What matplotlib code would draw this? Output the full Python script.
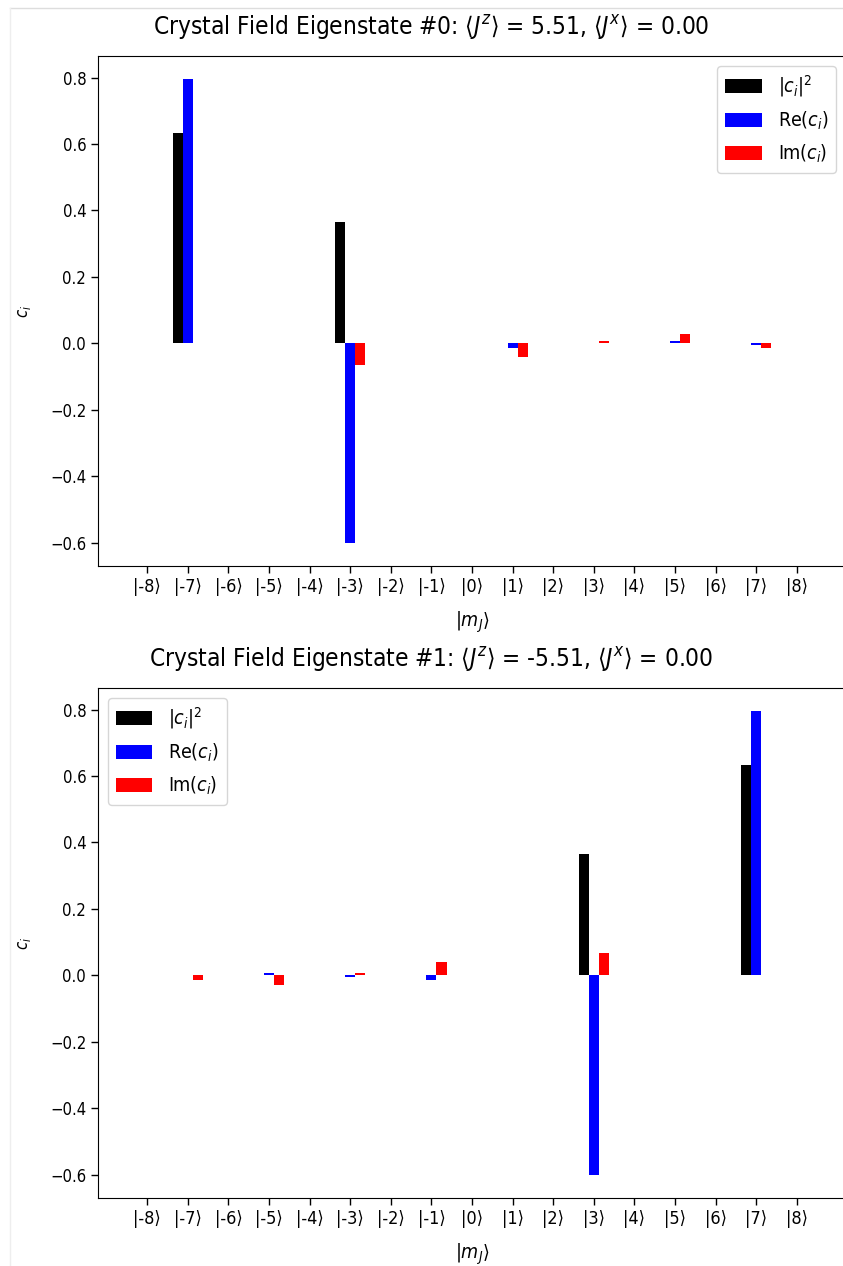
import numpy as np
import matplotlib
matplotlib.use("Agg")
import matplotlib.pyplot as plt
from matplotlib.lines import Line2D

plt.rcParams["font.family"] = ["DejaVu Sans"]
plt.rcParams["font.stretch"] = "condensed"
plt.rcParams["mathtext.fontset"] = "custom"
plt.rcParams["mathtext.rm"] = "DejaVu Sans:stretch=condensed"
plt.rcParams["mathtext.it"] = "DejaVu Sans:style=italic:stretch=condensed"
plt.rcParams["mathtext.bf"] = "DejaVu Sans:weight=bold:stretch=condensed"

mj = list(range(-8, 9))
tick_labels = [f"|{m}\u27e9" for m in mj]

# State 0
re0 = {-7: 0.795, -3: -0.600, 1: -0.015, 5: 0.008, 7: -0.004}
im0 = {-3: -0.065, 1: -0.040, 3: 0.008, 5: 0.027, 7: -0.013}
# State 1
re1 = {-5: 0.008, -3: -0.004, -1: -0.015, 3: -0.600, 7: 0.795}
im1 = {-7: -0.015, -5: -0.030, -3: 0.008, -1: 0.040, 3: 0.068}

titles = [r"Crystal Field Eigenstate #0: $\langle J^z \rangle$ = 5.51, $\langle J^x \rangle$ = 0.00",
          r"Crystal Field Eigenstate #1: $\langle J^z \rangle$ = -5.51, $\langle J^x \rangle$ = 0.00"]
legend_locs = ["upper right", "upper left"]

fig = plt.figure(figsize=(8.43, 12.66), dpi=100)
W, H = 843, 1266
rects = [(98, 56, 846, 566), (98, 688, 846, 1198)]

for k, (re_d, im_d) in enumerate([(re0, im0), (re1, im1)]):
    x0, y0, x1, y1 = rects[k]
    ax = fig.add_axes([x0 / W, 1 - y1 / H, (x1 - x0) / W, (y1 - y0) / H])
    re = np.array([re_d.get(m, 0.0) for m in mj])
    im = np.array([im_d.get(m, 0.0) for m in mj])
    sq = re ** 2 + im ** 2
    x = np.array(mj, dtype=float)
    w = 0.25
    ax.bar(x - w, sq, width=w, color="black", label=r"$|c_i|^2$")
    ax.bar(x, re, width=w, color="blue", label=r"Re$(c_i)$")
    ax.bar(x + w, im, width=w, color="red", label=r"Im$(c_i)$")
    ax.set_xticks(mj)
    ax.set_xticklabels(tick_labels, fontsize=13)
    ax.tick_params(axis="y", labelsize=12)
    ax.tick_params(length=5, width=1)
    ax.set_xlabel(r"$|m_J\rangle$", fontsize=14, labelpad=10)
    ax.set_ylabel(r"$c_i$", fontsize=12, labelpad=12)
    ax.set_title(titles[k], fontsize=17.5, pad=15, x=0.445)
    ax.legend(loc=legend_locs[k], fontsize=14, handlelength=1.9,
              labelspacing=0.55)

# faint notebook-like border
fig.add_artist(Line2D([10 / W, 1], [1 - 8 / H, 1 - 8 / H], color="#dddddd", lw=1))
fig.add_artist(Line2D([10 / W, 10 / W], [0, 1 - 8 / H], color="#eeeeee", lw=1))

fig.savefig("out.png", dpi=100)
